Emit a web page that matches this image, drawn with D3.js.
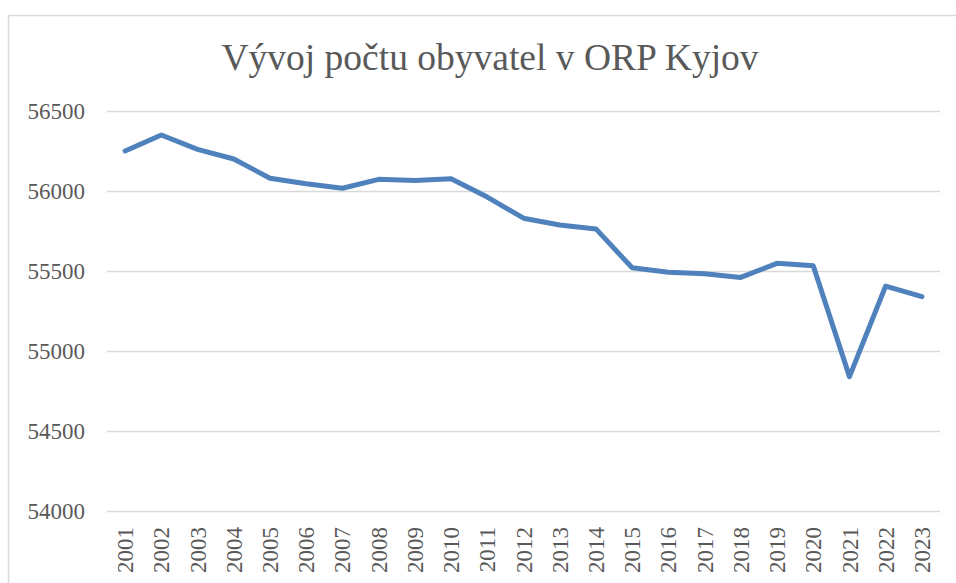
<!DOCTYPE html>
<html>
<head>
<meta charset="utf-8">
<script src="https://cdn.jsdelivr.net/npm/d3@7"></script>
<style>
  body { margin: 0; background: #fff; overflow: hidden; }
  svg { display: block; }
</style>
</head>
<body>
<div id="chart"></div>
<script>
// data
var years = ["2001","2002","2003","2004","2005","2006","2007","2008","2009","2010","2011","2012",
             "2013","2014","2015","2016","2017","2018","2019","2020","2021","2022","2023"];
var population = [56250, 56350, 56260, 56200, 56080, 56045, 56017, 56073, 56065, 56077, 55962, 55830,
                  55787, 55763, 55520, 55492, 55483, 55460, 55548, 55533, 54840, 55406, 55340];
var yTicks = [54000, 54500, 55000, 55500, 56000, 56500];
var title = "Vývoj počtu obyvatel v ORP Kyjov";

var width = 956, height = 583;
var margin = {top: 111, right: 16, bottom: 72, left: 107};
var serif = "'Liberation Serif', 'Times New Roman', serif";

var svg = d3.select("#chart")
    .append("svg")
    .attr("width", width)
    .attr("height", height);

// chart area border (runs past right and bottom edges)
svg.append("rect")
    .attr("x", 8.5).attr("y", 15.5)
    .attr("width", 960).attr("height", 600)
    .attr("fill", "#fff")
    .attr("stroke", "#d9d9d9")
    .attr("stroke-width", 1.5);

var x = d3.scaleBand()
    .domain(years)
    .range([margin.left, width - margin.right]);

var y = d3.scaleLinear()
    .domain([54000, 56500])
    .range([height - margin.bottom, margin.top]);

// gridlines + y labels
var yAxis = svg.append("g")
    .attr("transform", `translate(${margin.left},0)`)
    .call(d3.axisLeft(y)
        .tickValues(yTicks)
        .tickSize(-(width - margin.left - margin.right))
        .tickPadding(22)
        .tickFormat(d3.format("d")));
yAxis.select(".domain").remove();
yAxis.selectAll("line").attr("stroke", "#d9d9d9").attr("stroke-width", 1.5);
yAxis.selectAll("text")
    .attr("fill", "#595959")
    .style("font-family", serif)
    .style("font-size", "23px");

// x labels, rotated
var xAxis = svg.append("g")
    .attr("transform", `translate(0,${height - margin.bottom})`)
    .call(d3.axisBottom(x).tickSize(0).tickPadding(0));
xAxis.select(".domain").remove();
xAxis.selectAll("text")
    .attr("fill", "#595959")
    .style("font-family", serif)
    .style("font-size", "23px")
    .attr("text-anchor", "end")
    .attr("transform", "translate(0,16) rotate(-90)")
    .attr("x", 0)
    .attr("y", 0)
    .attr("dy", "0.35em");

// line
var line = d3.line()
    .x(function(d, i){ return x(years[i]) + x.bandwidth() / 2; })
    .y(function(d){ return y(d); });

svg.append("path")
    .datum(population)
    .attr("d", line)
    .attr("fill", "none")
    .attr("stroke", "#4f81bd")
    .attr("stroke-width", 5)
    .attr("stroke-linejoin", "round")
    .attr("stroke-linecap", "round");

// title
svg.append("text")
    .attr("x", 490)
    .attr("y", 70)
    .attr("text-anchor", "middle")
    .attr("fill", "#595959")
    .style("font-family", serif)
    .style("font-size", "37.5px")
    .text(title);
</script>
</body>
</html>
